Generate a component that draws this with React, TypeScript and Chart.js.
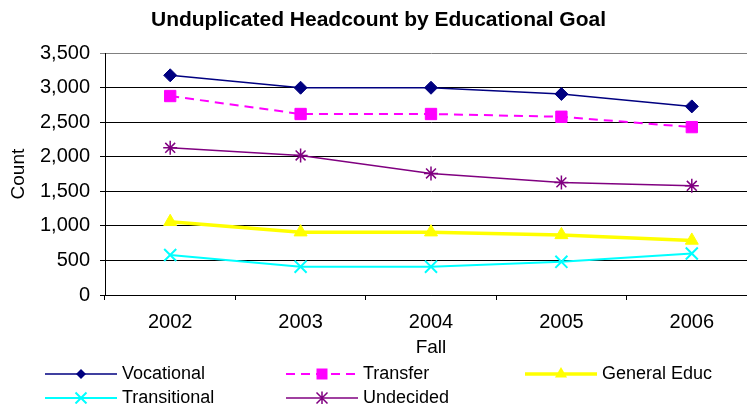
import React, { useEffect, useRef } from 'react';
import { Chart, registerables } from 'chart.js';

Chart.register(...registerables);

const categories = ['2002', '2003', '2004', '2005', '2006'];
const vocational = [3180, 3000, 3000, 2910, 2730];
const transfer = [2880, 2620, 2620, 2580, 2430];
const generalEduc = [1060, 910, 910, 870, 790];
const transitional = [580, 410, 410, 480, 600];
const undecided = [2130, 2020, 1760, 1630, 1580];
const yMin = 0;
const yMax = 3500;
const yStep = 500;

const FONT = "'Liberation Sans', Arial, sans-serif";

type LegendItem = { label: string; color: string; width: number; dash: number[]; marker: string; col: number; row: number };

const legendItems: LegendItem[] = [
  { label: 'Vocational', color: '#000080', width: 1.5, dash: [], marker: 'diamond', col: 0, row: 0 },
  { label: 'Transfer', color: '#FF00FF', width: 2, dash: [9, 6], marker: 'square', col: 1, row: 0 },
  { label: 'General Educ', color: '#FFFF00', width: 3.5, dash: [], marker: 'triangle', col: 2, row: 0 },
  { label: 'Transitional', color: '#00FFFF', width: 2, dash: [], marker: 'x', col: 0, row: 1 },
  { label: 'Undecided', color: '#800080', width: 1.5, dash: [], marker: 'star', col: 1, row: 1 },
];

const colX = [45, 286, 525];
const rowY = [374, 398];

function drawMarker(ctx: CanvasRenderingContext2D, kind: string, x: number, y: number, color: string) {
  ctx.save();
  ctx.setLineDash([]);
  ctx.fillStyle = color;
  ctx.strokeStyle = color;
  ctx.beginPath();
  if (kind === 'diamond') {
    const r = 5;
    ctx.moveTo(x, y - r);
    ctx.lineTo(x + r, y);
    ctx.lineTo(x, y + r);
    ctx.lineTo(x - r, y);
    ctx.closePath();
    ctx.fill();
  } else if (kind === 'square') {
    const s = 5.5;
    ctx.rect(x - s, y - s, 2 * s, 2 * s);
    ctx.fill();
  } else if (kind === 'triangle') {
    const r = 7;
    ctx.moveTo(x, y - r);
    ctx.lineTo(x + r * 0.866, y + r * 0.5);
    ctx.lineTo(x - r * 0.866, y + r * 0.5);
    ctx.closePath();
    ctx.fill();
  } else if (kind === 'x') {
    const r = 5.5;
    ctx.lineWidth = 2;
    ctx.moveTo(x - r, y - r);
    ctx.lineTo(x + r, y + r);
    ctx.moveTo(x + r, y - r);
    ctx.lineTo(x - r, y + r);
    ctx.stroke();
  } else if (kind === 'star') {
    const r = 5.5;
    ctx.lineWidth = 1.5;
    ctx.moveTo(x - r, y - r);
    ctx.lineTo(x + r, y + r);
    ctx.moveTo(x + r, y - r);
    ctx.lineTo(x - r, y + r);
    ctx.moveTo(x, y - r * 1.2);
    ctx.lineTo(x, y + r * 1.2);
    ctx.stroke();
  }
  ctx.restore();
}

const legendPlugin = {
  id: 'customLegend',
  afterDraw(chart: Chart) {
    const ctx = chart.ctx;
    ctx.save();
    legendItems.forEach((it) => {
      const x0 = colX[it.col];
      const y = rowY[it.row];
      ctx.beginPath();
      ctx.strokeStyle = it.color;
      ctx.lineWidth = it.width;
      ctx.setLineDash(it.dash);
      ctx.moveTo(x0, y);
      ctx.lineTo(x0 + 72, y);
      ctx.stroke();
      drawMarker(ctx, it.marker, x0 + 36, y, it.color);
      ctx.setLineDash([]);
      ctx.fillStyle = '#000';
      ctx.font = `18px ${FONT}`;
      ctx.textBaseline = 'middle';
      ctx.textAlign = 'left';
      ctx.fillText(it.label, x0 + 77, y);
    });
    ctx.restore();
  },
};

export default function App() {
  const ref = useRef<HTMLCanvasElement | null>(null);

  useEffect(() => {
    if (!ref.current) return;
    const chart = new Chart(ref.current, {
      type: 'line',
      data: {
        labels: categories,
        datasets: [
          {
            label: 'Vocational',
            data: vocational,
            borderColor: '#000080',
            backgroundColor: '#000080',
            borderWidth: 1.5,
            pointStyle: 'rectRot',
            pointRadius: 6.5,
            pointBorderWidth: 1,
          },
          {
            label: 'Transfer',
            data: transfer,
            borderColor: '#FF00FF',
            backgroundColor: '#FF00FF',
            borderWidth: 2,
            borderDash: [9, 6],
            pointStyle: 'rect',
            pointRadius: 8,
            pointBorderWidth: 1,
          },
          {
            label: 'General Educ',
            data: generalEduc,
            borderColor: '#FFFF00',
            backgroundColor: '#FFFF00',
            borderWidth: 3.5,
            pointStyle: 'triangle',
            pointRadius: 7.5,
            pointBorderWidth: 1,
          },
          {
            label: 'Transitional',
            data: transitional,
            borderColor: '#00FFFF',
            backgroundColor: '#00FFFF',
            borderWidth: 2,
            pointStyle: 'crossRot',
            pointRadius: 8.5,
            pointBorderWidth: 2,
          },
          {
            label: 'Undecided',
            data: undecided,
            borderColor: '#800080',
            backgroundColor: '#800080',
            borderWidth: 1.5,
            pointStyle: 'star',
            pointRadius: 7,
            pointBorderWidth: 1.5,
          },
        ],
      },
      options: {
        animation: false,
        responsive: false,
        devicePixelRatio: 1,
        layout: { padding: { left: 0, right: 13, top: 0, bottom: 45 } },
        plugins: {
          legend: { display: false },
          tooltip: { enabled: false },
          title: {
            display: true,
            text: 'Unduplicated Headcount by Educational Goal',
            color: '#000',
            font: { family: FONT, size: 21, weight: 'bold' },
            padding: { top: 8, bottom: 20 },
          },
        },
        elements: { line: { tension: 0 } },
        scales: {
          x: {
            offset: true,
            grid: {
              offset: true,
              drawOnChartArea: false,
              drawTicks: true,
              tickLength: 5,
              color: '#000',
            },
            border: { color: '#000', width: 1 },
            ticks: { color: '#000', font: { family: FONT, size: 20 }, padding: 10 },
            title: {
              display: true,
              text: 'Fall',
              color: '#000',
              font: { family: FONT, size: 19 },
              padding: { top: 0, bottom: 0 },
            },
            afterFit: (scale: any) => {
              scale.height = 64;
            },
          },
          y: {
            min: yMin,
            max: yMax,
            grid: {
              color: (c: any) => (c.tick && c.tick.value === yMax ? '#808080' : '#000'),
              tickLength: 5,
              drawTicks: true,
            },
            border: { color: '#000', width: 1 },
            ticks: {
              stepSize: yStep,
              color: '#000',
              font: { family: FONT, size: 20 },
              padding: 10,
              callback: (v: any) => Number(v).toLocaleString('en-US'),
            },
            title: {
              display: true,
              text: 'Count',
              color: '#000',
              font: { family: FONT, size: 19 },
              padding: { top: 7, bottom: 0 },
            },
            afterFit: (scale: any) => {
              scale.width = 105;
            },
          },
        },
      },
      plugins: [legendPlugin],
    });
    return () => chart.destroy();
  }, []);

  return (
    <div style={{ position: 'fixed', left: 0, top: 0, width: 747, height: 404, overflow: 'hidden', background: '#fff' }}>
      <canvas ref={ref} width={770} height={404} style={{ display: 'block', width: 770, height: 404 }} />
    </div>
  );
}
